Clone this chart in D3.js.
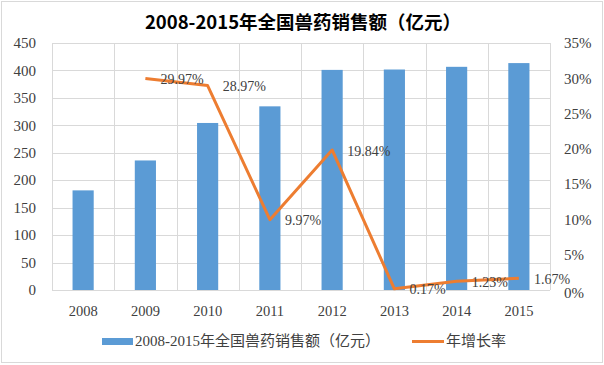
<html>
<head>
<meta charset="utf-8">
<style>
  body { margin: 0; background: #fff; }
</style>
</head>
<body>
<script src="https://cdn.jsdelivr.net/npm/d3@7"></script>
<script>
// data
var years = ["2008", "2009", "2010", "2011", "2012", "2013", "2014", "2015"];
var sales = [181.5, 236, 304.3, 334.6, 401, 401.7, 406.6, 413.4];   // 亿元
var growth = [null, 29.97, 28.97, 9.97, 19.84, 0.17, 1.23, 1.67];   // %
var leftTicks = [0, 50, 100, 150, 200, 250, 300, 350, 400, 450];
var rightTicks = [0, 5, 10, 15, 20, 25, 30, 35];
var title = "2008-2015年全国兽药销售额（亿元）";
var legendNames = ["2008-2015年全国兽药销售额（亿元）", "年增长率"];

var width = 604, height = 365;
var plotL = 52, plotR = 550, plotT = 43, plotB = 290;
var blue = "#5B9BD5", orange = "#ED7D31";
var serif = "'Liberation Serif', 'Times New Roman', 'DejaVu Serif', serif";

var svg = d3.select("body").append("svg")
    .attr("width", width)
    .attr("height", height);

// frame
svg.append("rect")
    .attr("x", 1.5).attr("y", 1.5)
    .attr("width", width - 3).attr("height", height - 4)
    .attr("fill", "#fff").attr("stroke", "#d9d9d9");

var x = d3.scaleBand().domain(years).range([plotL, plotR]).paddingInner(0.66).paddingOuter(0.33);
var xb = d3.scaleBand().domain(years).range([plotL, plotR]); // category boundaries
var y = d3.scaleLinear().domain([0, 450]).range([plotB, plotT]);
var y2 = d3.scaleLinear().domain([0, 35]).range([plotB, plotT]);

// gridlines
var grid = svg.append("g").attr("stroke", "#d9d9d9").attr("stroke-width", 1);
grid.selectAll("line.h")
    .data(leftTicks)
    .join("line")
    .attr("class", "h")
    .attr("x1", plotL).attr("x2", plotR)
    .attr("y1", d => Math.round(y(d)) + 0.5)
    .attr("y2", d => Math.round(y(d)) + 0.5);
grid.selectAll("line.v")
    .data(years.concat(["end"]))
    .join("line")
    .attr("class", "v")
    .attr("x1", (d, i) => Math.round(plotL + i * xb.bandwidth()) + 0.5)
    .attr("x2", (d, i) => Math.round(plotL + i * xb.bandwidth()) + 0.5)
    .attr("y1", plotT).attr("y2", plotB);

// bars
svg.append("g")
    .selectAll("rect")
    .data(sales)
    .join("rect")
    .attr("x", (d, i) => x(years[i]))
    .attr("width", x.bandwidth())
    .attr("y", d => y(d))
    .attr("height", d => plotB - y(d))
    .attr("fill", blue);

// line
var pts = growth.map((g, i) => ({ year: years[i], v: g })).filter(d => d.v != null);
svg.append("path")
    .datum(pts)
    .attr("fill", "none")
    .attr("stroke", orange)
    .attr("stroke-width", 3)
    .attr("stroke-linejoin", "round")
    .attr("d", d3.line()
        .x(d => xb(d.year) + xb.bandwidth() / 2)
        .y(d => y2(d.v)));

var txt = svg.append("g")
    .attr("font-family", serif)
    .attr("fill", "#404040");

txt.append("g")
    .attr("font-size", 14)
    .selectAll("text")
    .data(pts)
    .join("text")
    .attr("x", d => xb(d.year) + xb.bandwidth() / 2 + 15)
    .attr("y", d => y2(d.v))
    .attr("dy", "0.4em")
    .text(d => d.v.toFixed(2) + "%");

// left axis
txt.append("g")
    .attr("font-size", 15)
    .selectAll("text")
    .data(leftTicks)
    .join("text")
    .attr("x", 36)
    .attr("y", d => y(d))
    .attr("dy", "0.35em")
    .attr("text-anchor", "end")
    .text(d => d);

// right axis
txt.append("g")
    .attr("font-size", 15)
    .selectAll("text")
    .data(rightTicks)
    .join("text")
    .attr("x", 564)
    .attr("y", d => y2(d))
    .attr("dy", d => d === 0 ? "0.5em" : "0.35em")
    .text(d => d + "%");

// x labels
txt.append("g")
    .attr("font-size", 14.5)
    .selectAll("text")
    .data(years)
    .join("text")
    .attr("x", d => xb(d) + xb.bandwidth() / 2)
    .attr("y", 311)
    .attr("dy", "0.35em")
    .attr("text-anchor", "middle")
    .text(d => d);

// title
svg.append("text")
    .attr("x", 303).attr("y", 23)
    .attr("dy", "0.35em")
    .attr("text-anchor", "middle")
    .attr("font-family", "'Noto Sans CJK SC', sans-serif")
    .attr("font-weight", "bold")
    .attr("font-size", 18.5)
    .attr("fill", "#000")
    .text(title);

// legend
var lg = svg.append("g")
    .attr("font-family", "'Liberation Serif', 'Noto Sans CJK SC', serif")
    .attr("font-size", 15)
    .attr("fill", "#404040");
lg.append("rect")
    .attr("x", 102).attr("y", 338).attr("width", 31).attr("height", 7)
    .attr("fill", blue);
lg.append("text")
    .attr("x", 135).attr("y", 341).attr("dy", "0.35em")
    .text(legendNames[0]);
lg.append("line")
    .attr("x1", 412).attr("x2", 444).attr("y1", 341.5).attr("y2", 341.5)
    .attr("stroke", orange).attr("stroke-width", 3);
lg.append("text")
    .attr("x", 446).attr("y", 341).attr("dy", "0.35em")
    .text(legendNames[1]);
</script>
</body>
</html>
